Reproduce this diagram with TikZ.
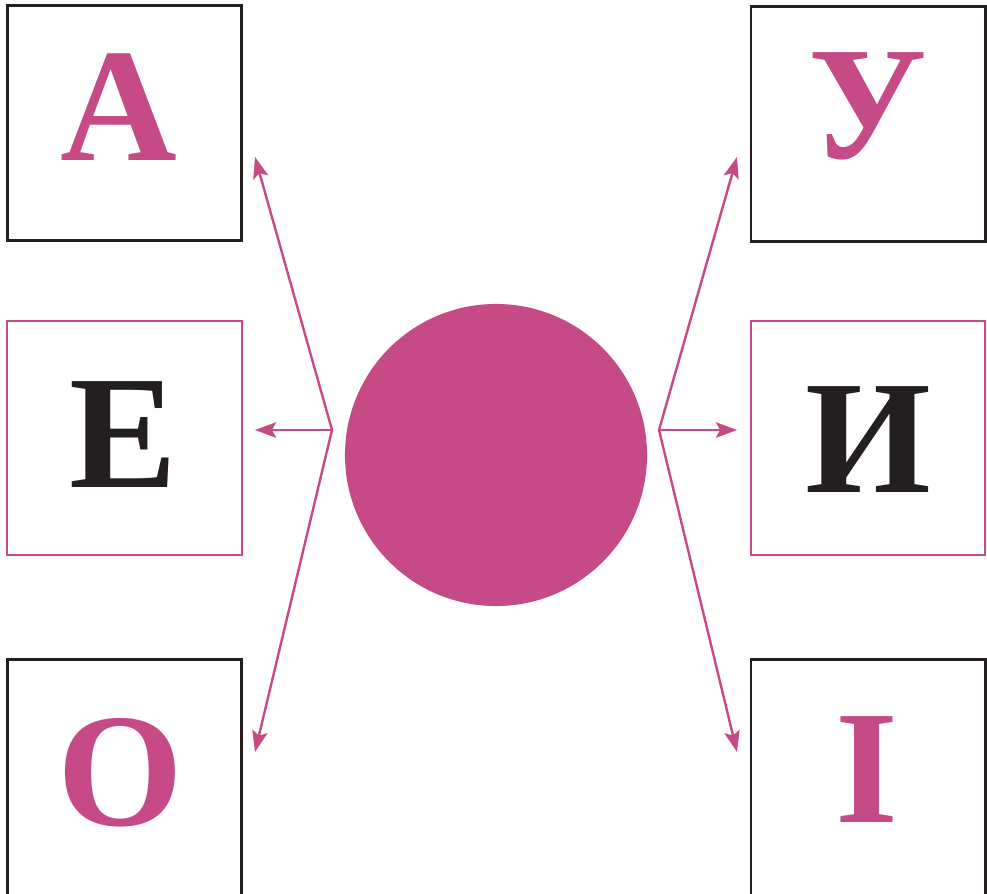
\documentclass[tikz,border=0pt]{standalone}
\usepackage{fontspec}
\setmainfont{Liberation Serif}
\usepackage{xcolor}
\usetikzlibrary{arrows.meta, positioning}

\definecolor{vowelpink}{HTML}{C64A86}
\definecolor{inkblack}{HTML}{231F20}

\tikzset{
    letterbox/.style={draw=inkblack, line width=2.1pt, minimum width=5.85cm, minimum height=5.85cm, inner sep=0pt},
    pinkbox/.style={letterbox, draw=vowelpink, line width=1.4pt},
    lowbox/.style={letterbox, minimum height=6cm},
    bigletter/.style={font=\fontsize{115}{115}\selectfont\bfseries, anchor=base, inner sep=0pt},
    fanarrow/.style={vowelpink, line width=1.7pt, -{Stealth[length=15pt, width=11pt, inset=3pt]}}
}

\begin{document}
\begin{tikzpicture}[x=0.025cm, y=-0.025cm]
    % Page frame
    \useasboundingbox (0,0) rectangle (987,894);

    % Boxes
    \node[letterbox] (boxA) at (124.5,123) {};
    \node[pinkbox]   (boxE) at (124.5,438) {};
    \node[lowbox]    (boxO) at (124.5,779.5) {};
    \node[letterbox] (boxU) at (868,124) {};
    \node[pinkbox]   (boxY) at (868,438) {};
    \node[lowbox]    (boxI) at (868,779.5) {};

    % Letters
    \node[bigletter, vowelpink] (letA) at (119,160) {А};
    \node[bigletter, inkblack]  (letE) at (123,487) {Е};
    \node[bigletter, vowelpink] (letO) at (120,825) {О};
    \node[bigletter, vowelpink] (letU) at (868,158) {У};
    \node[bigletter, inkblack]  (letY) at (868,492) {И};
    \node[bigletter, vowelpink] (letI) at (867,822) {І};

    % Sound circle
    \node[circle, fill=vowelpink, minimum size=7.55cm, inner sep=0pt] (sound) at (496,455) {};

    % Fan points and arrow tips
    \coordinate (fanL) at (332,430);
    \coordinate (fanR) at (659,430);
    \coordinate (tipA) at (255,157);
    \coordinate (tipE) at (255,430);
    \coordinate (tipO) at (255,752);
    \coordinate (tipU) at (737,157);
    \coordinate (tipY) at (737,430);
    \coordinate (tipI) at (737,752);

    % Arrows
    \foreach \t in {tipA, tipE, tipO}
        \draw[fanarrow] (fanL) -- (\t);
    \foreach \t in {tipU, tipY, tipI}
        \draw[fanarrow] (fanR) -- (\t);
\end{tikzpicture}
\end{document}
